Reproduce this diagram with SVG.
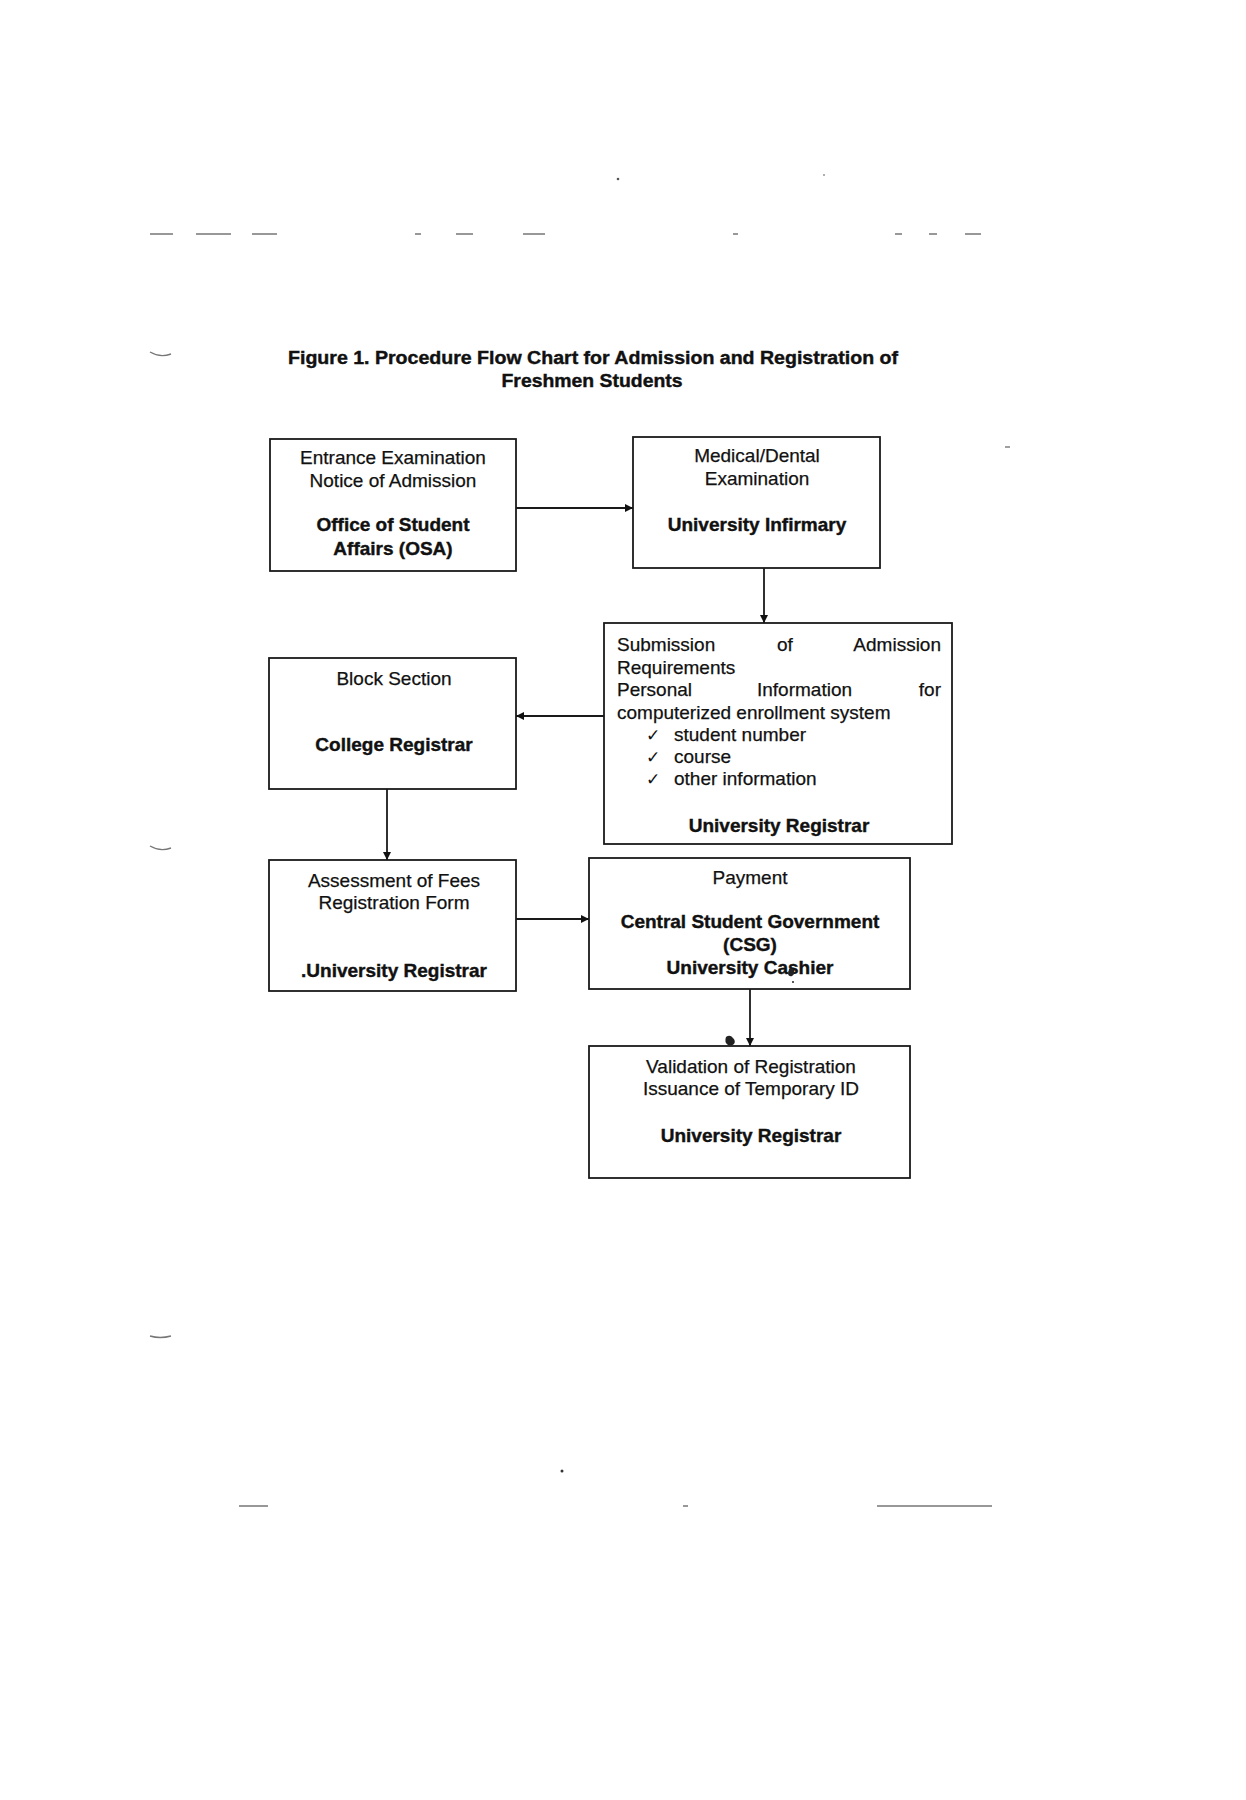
<svg xmlns="http://www.w3.org/2000/svg" width="1246" height="1800" viewBox="0 0 1246 1800">
<defs>
<marker id="ah" viewBox="0 0 10 10" refX="10" refY="5" markerWidth="9" markerHeight="8" markerUnits="userSpaceOnUse" orient="auto">
<path d="M0,0 L10,5 L0,10 Z" fill="#111"/>
</marker>
<style>
.box{fill:#fff;stroke:#1a1a1a;stroke-width:1.8}
.t{font-family:"Liberation Sans",Arial,sans-serif;font-size:19px;fill:#111;stroke:#111;stroke-width:0.25}
.b{font-weight:bold;stroke-width:0.4}
.c{text-anchor:middle}
.e{text-anchor:end}
.title{font-family:"Liberation Sans",Arial,sans-serif;font-size:18px;font-weight:bold;fill:#111;stroke:#111;stroke-width:0.4;text-anchor:middle}
.ck{font-family:"DejaVu Sans",sans-serif;font-size:17px;fill:#111}
.conn{stroke:#1a1a1a;stroke-width:1.8;fill:none;marker-end:url(#ah)}
.mark{stroke:#777;stroke-width:1.4;fill:none}
.blot{fill:#222}
</style>
</defs>
<rect width="1246" height="1800" fill="#fff"/>

<g id="scan-marks">
<path class="mark" d="M150,234h23M196,234h35M252,234h25M415,234h6M456,234h17M523,234h22M733,234h5M895,234h7M929,234h8M965,234h16"/>
<path class="mark" d="M150,352q10,6 21,2M150,846q10,6 21,2M150,1336q10,3 21,0"/>
<path class="mark" d="M239,1506h29M683,1506h5M877,1506h115"/>
<circle cx="618" cy="179" r="1.3" fill="#555"/>
<circle cx="562" cy="1471" r="1.5" fill="#333"/>
<circle cx="824" cy="175" r="0.9" fill="#888"/>
<path class="mark" d="M1005,447h5"/>
</g>

<g transform="translate(0,1)">
<g id="title">
<text class="title" x="593" y="363" textLength="610" lengthAdjust="spacingAndGlyphs">Figure 1. Procedure Flow Chart for Admission and Registration of</text>
<text class="title" x="592" y="386" textLength="181" lengthAdjust="spacingAndGlyphs">Freshmen Students</text>
</g>

<g id="connectors">
<line class="conn" x1="516" y1="507" x2="633" y2="507"/>
<line class="conn" x1="764" y1="567" x2="764" y2="622"/>
<line class="conn" x1="604" y1="715" x2="516" y2="715"/>
<line class="conn" x1="387" y1="788" x2="387" y2="859"/>
<line class="conn" x1="516" y1="918" x2="589" y2="918"/>
<line class="conn" x1="750" y1="988" x2="750" y2="1045"/>
</g>

<g id="node-entrance">
<rect class="box" x="270" y="438" width="246" height="132"/>
<text class="t c" x="393" y="463">Entrance Examination</text>
<text class="t c" x="393" y="486">Notice of Admission</text>
<text class="t b c" x="393" y="530">Office of Student</text>
<text class="t b c" x="393" y="554">Affairs (OSA)</text>
</g>

<g id="node-medical">
<rect class="box" x="633" y="436" width="247" height="131"/>
<text class="t c" x="757" y="461">Medical/Dental</text>
<text class="t c" x="757" y="484">Examination</text>
<text class="t b c" x="757" y="530">University Infirmary</text>
</g>

<g id="node-submission">
<rect class="box" x="604" y="622" width="348" height="221"/>
<text class="t" x="617" y="650">Submission</text>
<text class="t" x="777" y="650">of</text>
<text class="t e" x="941" y="650">Admission</text>
<text class="t" x="617" y="673">Requirements</text>
<text class="t" x="617" y="695">Personal</text>
<text class="t" x="757" y="695">Information</text>
<text class="t e" x="941" y="695">for</text>
<text class="t" x="617" y="718">computerized enrollment system</text>
<text class="ck" x="646" y="740">✓</text>
<text class="t" x="674" y="740">student number</text>
<text class="ck" x="646" y="762">✓</text>
<text class="t" x="674" y="762">course</text>
<text class="ck" x="646" y="784">✓</text>
<text class="t" x="674" y="784">other information</text>
<text class="t b c" x="779" y="831">University Registrar</text>
</g>

<g id="node-block">
<rect class="box" x="269" y="657" width="247" height="131"/>
<text class="t c" x="394" y="684">Block Section</text>
<text class="t b c" x="394" y="750">College Registrar</text>
</g>

<g id="node-assessment">
<rect class="box" x="269" y="859" width="247" height="131"/>
<text class="t c" x="394" y="886">Assessment of Fees</text>
<text class="t c" x="394" y="908">Registration Form</text>
<text class="t b c" x="394" y="976">.University Registrar</text>
</g>

<g id="node-payment">
<rect class="box" x="589" y="857" width="321" height="131"/>
<text class="t c" x="750" y="883">Payment</text>
<text class="t b c" x="750" y="927">Central Student Government</text>
<text class="t b c" x="750" y="950">(CSG)</text>
<text class="t b c" x="750" y="973">University Cashier</text>
</g>

<g id="node-validation">
<rect class="box" x="589" y="1045" width="321" height="132"/>
<text class="t c" x="751" y="1072">Validation of Registration</text>
<text class="t c" x="751" y="1094">Issuance of Temporary ID</text>
<text class="t b c" x="751" y="1141">University Registrar</text>
</g>

<g id="blots">
<path class="blot" d="M726,1036 q4,-3 7,1 q3,3 1,6 q-3,3 -6,1 q-4,-3 -2,-8 Z"/>
<path class="blot" d="M789,968 q3,-2 5,1 q1,4 -2,6 q-3,1 -4,-2 Z"/>
<circle class="blot" cx="793" cy="981" r="1"/>
</g>
</g>
</svg>
